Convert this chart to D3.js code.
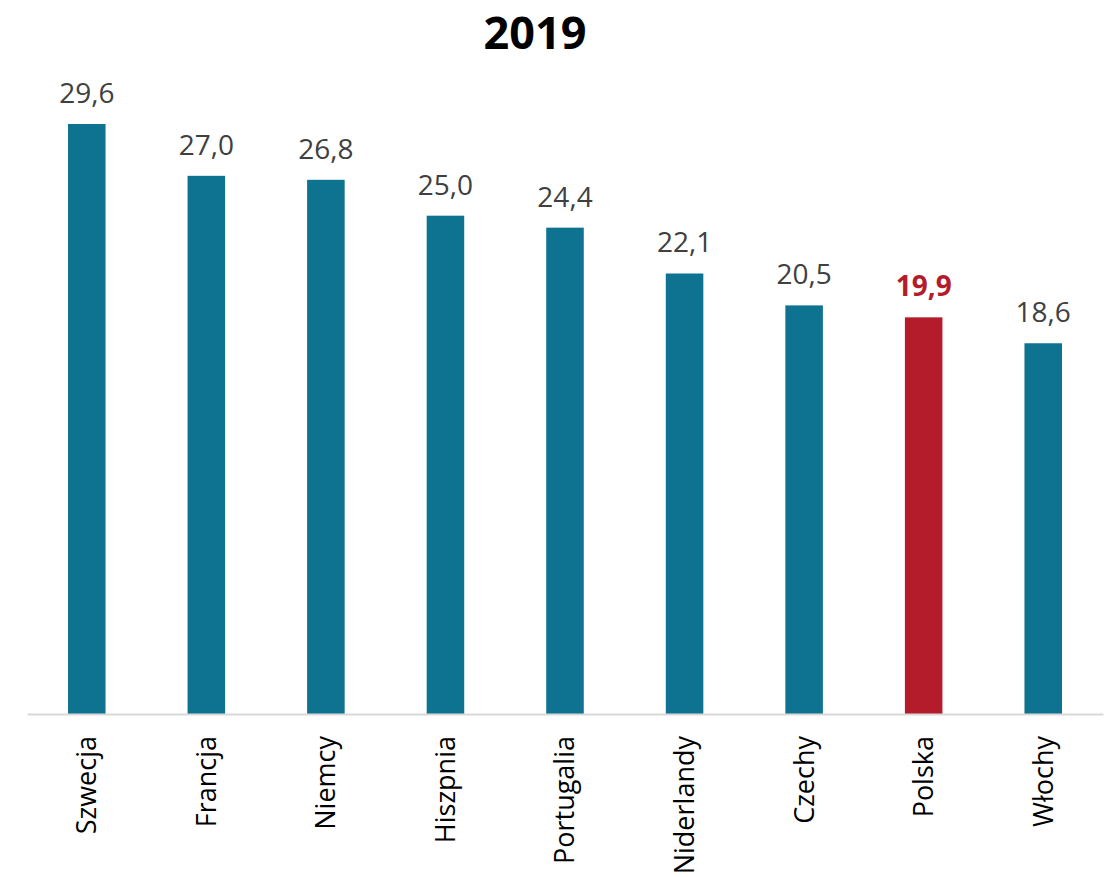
<!DOCTYPE html>
<html><head><meta charset="utf-8">
<script src="https://cdn.jsdelivr.net/npm/d3@7"></script>
<style>body{margin:0;background:#fff;}svg{display:block;font-family:"Open Sans",sans-serif;}</style>
</head><body><svg id="c" width="1112" height="877"></svg>
<script>
const categories = ["Szwecja","Francja","Niemcy","Hiszpnia","Portugalia","Niderlandy","Czechy","Polska","Włochy"];
const values = [29.6,27.0,26.8,25.0,24.4,22.1,20.5,19.9,18.6];
const labels = ["29,6","27,0","26,8","25,0","24,4","22,1","20,5","19,9","18,6"];
const highlight = "Polska";
const title = "2019";

const svg = d3.select("#c");
const x = d3.scaleBand().domain(categories).range([27,1103]).paddingInner(0.686).paddingOuter(0.343);
const y = d3.scaleLinear().domain([0,29.6]).range([714,124]);

svg.append("text").attr("x",535).attr("y",49).attr("text-anchor","middle")
  .attr("font-size",45).attr("font-weight","bold").attr("fill","#000").text(title);

svg.selectAll("rect.bar").data(categories).join("rect").attr("class","bar")
  .attr("x",d=>x(d)).attr("width",x.bandwidth())
  .attr("y",(d,i)=>y(values[i])).attr("height",(d,i)=>y(0)-y(values[i]))
  .attr("fill",d=>d===highlight?"#B41C2B":"#0E7391");

svg.selectAll("text.val").data(categories).join("text").attr("class","val")
  .attr("x",d=>x(d)+x.bandwidth()/2).attr("y",(d,i)=>y(values[i])-21)
  .attr("text-anchor","middle").attr("font-size",28)
  .attr("font-weight",d=>d===highlight?"bold":"normal")
  .attr("fill",d=>d===highlight?"#B41C2B":"#404040")
  .text((d,i)=>labels[i]);

const ax = svg.append("g").attr("transform","translate(0,714)")
  .call(d3.axisBottom(x).tickSize(0).tickPadding(0));
ax.select(".domain").attr("stroke","#d9d9d9").attr("stroke-width",2);
ax.selectAll(".tick text").attr("font-size",27).attr("font-family","'Open Sans',sans-serif").attr("fill","#000")
  .attr("text-anchor","end").attr("transform","rotate(-90)").attr("x",-22).attr("y",0).attr("dy","0.35em");
</script></body></html>
